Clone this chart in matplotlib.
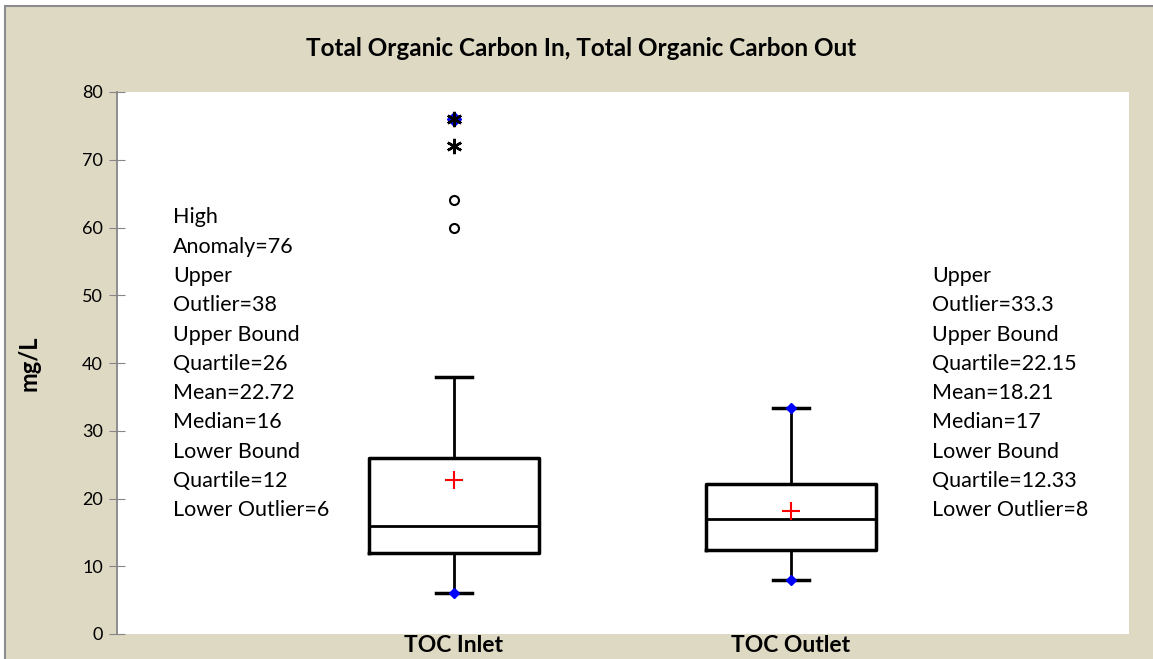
import numpy as np
import matplotlib.pyplot as plt
from matplotlib.patches import Rectangle

# box plot summary values
categories = ['TOC Inlet', 'TOC Outlet']
q1 = [12, 12.33]
median = [16, 17]
q3 = [26, 22.15]
mean = [22.72, 18.21]
whis_lo = [6, 8]
whis_hi = [38, 33.3]
minmax_lo = [6, 8]
minmax_hi = [76, 33.3]
# inlet outliers / anomalies
outlier_y = [60, 64]
anomaly_y = [72, 76]

left_notes = ['High', 'Anomaly=76', 'Upper', 'Outlier=38', 'Upper Bound', 'Quartile=26',
              'Mean=22.72', 'Median=16', 'Lower Bound', 'Quartile=12', 'Lower Outlier=6']
right_notes = ['Upper', 'Outlier=33.3', 'Upper Bound', 'Quartile=22.15',
               'Mean=18.21', 'Median=17', 'Lower Bound', 'Quartile=12.33', 'Lower Outlier=8']

beige = '#DDD9C3'
W, H = 1153, 659
fig = plt.figure(figsize=(W/100, H/100), dpi=100)
plt.rcParams['font.family'] = ['Lato', 'DejaVu Sans']

# background panel with grey border, white strip on top
bg = Rectangle((5/W, -0.01), 1, (H-6)/H + 0.01, transform=fig.transFigure,
               facecolor=beige, edgecolor='#8C8C8C', lw=1.5, zorder=-10)
fig.patches.append(bg)

ax = fig.add_axes([117/W, 25/H, (1129-117)/W, (634-92)/H])
ax.set_facecolor('white')

pos = np.arange(len(categories))
stats = []
for i in range(len(categories)):
    stats.append(dict(med=median[i], q1=q1[i], q3=q3[i], whislo=whis_lo[i],
                      whishi=whis_hi[i], mean=mean[i], fliers=[], label=categories[i]))

ax.bxp(stats, positions=pos, widths=0.505, capwidths=0.105, showmeans=True,
       boxprops=dict(color='black', lw=2.5),
       medianprops=dict(color='black', lw=2),
       whiskerprops=dict(color='black', lw=2),
       capprops=dict(color='black', lw=2.5),
       meanprops=dict(marker='+', markeredgecolor='red', markersize=13, markeredgewidth=1.5))

ax.plot(pos, minmax_lo, 'D', color='blue', ms=5, zorder=5)
ax.plot(pos[1:], minmax_hi[1:], 'D', color='blue', ms=5, zorder=5)
ax.plot([pos[0]]*len(outlier_y), outlier_y, 'o', mfc='white', mec='black', mew=1.5, ms=6.5, zorder=5)
ax.plot([pos[0]], [minmax_hi[0]], 'D', color='blue', ms=7, zorder=5)
ax.plot([pos[0]]*len(anomaly_y), anomaly_y, marker=(6, 2, 0), ls='none', mec='black',
        mew=1.8, ms=11, zorder=6)

# notes
step = 29.3 / 6.775
for k, s in enumerate(left_notes):
    ax.text(-0.834, 61.5 - k*step, s, fontsize=15.5, va='center', ha='left')
for k, s in enumerate(right_notes):
    ax.text(1.418, 61.5 - (k+2)*step, s, fontsize=15.5, va='center', ha='left')

ax.set_xlim(-1.0, 2.003)
ax.set_ylim(0, 80)
ax.set_yticks(np.arange(0, 81, 10))
ax.set_xticks(pos)
ax.set_xticklabels(categories, fontsize=16.5, fontweight='bold')
ax.tick_params(axis='x', length=0, pad=1)
ax.tick_params(axis='y', direction='inout', length=12, color='#868686', labelsize=13, pad=4)
for s in ['top', 'right', 'bottom']:
    ax.spines[s].set_visible(False)
ax.spines['left'].set_color('#868686')
ax.spines['left'].set_linewidth(1.3)
ax.set_ylabel('mg/L', fontsize=17, fontweight='bold')
ax.yaxis.set_label_coords(-77/1012, 0.5)

fig.text(581/W, 1 - 48/H, 'Total Organic Carbon In, Total Organic Carbon Out',
         ha='center', va='center', fontsize=17.5, fontweight='bold')

fig.savefig('out.png', dpi=100)
